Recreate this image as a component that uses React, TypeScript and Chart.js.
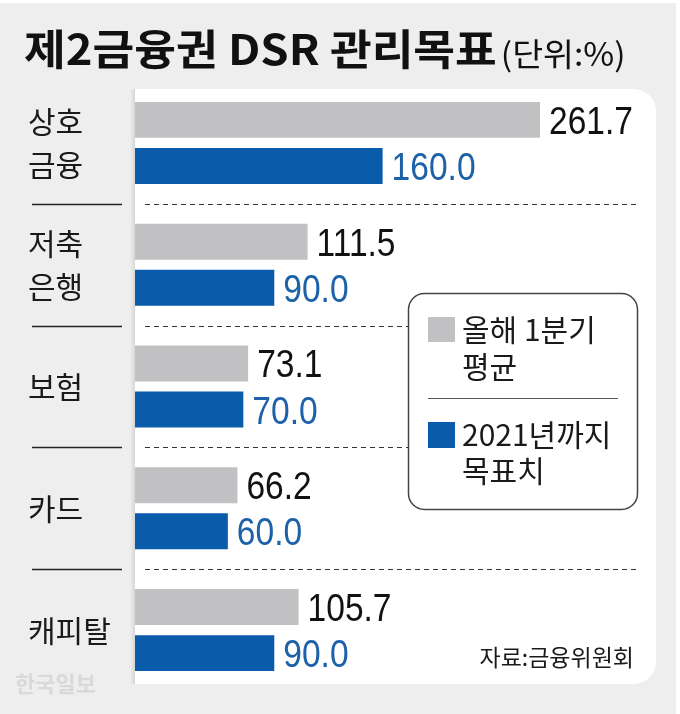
import React, { useEffect, useRef } from "react";
import { Chart, registerables } from "chart.js";

Chart.register(...registerables);

const W = 680;
const H = 714;

const categories: string[][] = [["상호", "금융"], ["저축", "은행"], ["보험"], ["카드"], ["캐피탈"]];
const avgQ1: number[] = [261.7, 111.5, 73.1, 66.2, 105.7];
const target2021: number[] = [160.0, 90.0, 70.0, 60.0, 90.0];
const seriesNames: string[][] = [["올해 1분기", "평균"], ["2021년까지", "목표치"]];
const titleText = "제2금융권 DSR 관리목표";
const unitText = "(단위:%)";
const sourceText = "자료:금융위원회";
const watermarkText = "한국일보";

const BG = "#eeeeee";
const GRAY = "#c1c1c3";
const BLUE = "#0a5cab";
const BLUE_TEXT = "#1d62a8";
const KR = "'Noto Sans CJK KR', 'Noto Sans', sans-serif";
const NUM = "'Liberation Sans', Arial, sans-serif";

function condensedText(ctx: CanvasRenderingContext2D, text: string, x: number, y: number, sx: number) {
  ctx.save();
  ctx.translate(x, y);
  ctx.scale(sx, 1);
  ctx.fillText(text, 0, 0);
  ctx.restore();
}

const decor = {
  id: "decor",
  beforeDraw(chart: any) {
    const { ctx, chartArea, scales } = chart;
    ctx.save();
    ctx.fillStyle = "#ffffff";
    ctx.fillRect(0, 0, W, H);
    ctx.fillStyle = BG;
    ctx.fillRect(0, 3, 676, H - 3);

    const px = chartArea.left;
    const py = chartArea.top + 7;
    const pr = chartArea.right + 1;
    const pb = chartArea.bottom - 7;

    const g = ctx.createLinearGradient(px - 5, 0, px, 0);
    g.addColorStop(0, "rgba(0,0,0,0)");
    g.addColorStop(1, "rgba(0,0,0,0.10)");
    ctx.fillStyle = g;
    ctx.fillRect(px - 5, py, 5, pb - py);

    ctx.beginPath();
    ctx.roundRect(px, py, pr - px, pb - py, [0, 22, 22, 0]);
    ctx.fillStyle = "#ffffff";
    ctx.fill();

    const ys = scales.y;
    for (let i = 0; i < categories.length - 1; i++) {
      const m = Math.round((ys.getPixelForValue(i) + ys.getPixelForValue(i + 1)) / 2) + 0.5;
      ctx.strokeStyle = "#222222";
      ctx.lineWidth = 1.3;
      ctx.setLineDash([]);
      ctx.beginPath();
      ctx.moveTo(32, m);
      ctx.lineTo(122, m);
      ctx.stroke();
      ctx.lineWidth = 1;
      ctx.strokeStyle = "#333333";
      ctx.setLineDash([5, 4]);
      ctx.beginPath();
      ctx.moveTo(145, m);
      ctx.lineTo(640, m);
      ctx.stroke();
    }
    ctx.setLineDash([]);
    ctx.restore();
  },
  afterDraw(chart: any) {
    const { ctx, scales } = chart;
    ctx.save();

    // title
    ctx.fillStyle = "#111111";
    ctx.textBaseline = "alphabetic";
    ctx.textAlign = "left";
    ctx.font = `bold 42px ${KR}`;
    const tsx = 1.08;
    const tw = ctx.measureText(titleText).width * tsx;
    condensedText(ctx, titleText, 24, 65, tsx);
    ctx.font = `32px ${KR}`;
    condensedText(ctx, unitText, 24 + tw + 4, 66, 1.05);

    // category labels
    ctx.font = `30px ${KR}`;
    ctx.fillStyle = "#1a1a1a";
    ctx.textBaseline = "middle";
    const ys = scales.y;
    categories.forEach((lines, i) => {
      const c = ys.getPixelForValue(i);
      const lh = 43;
      const start = c - ((lines.length - 1) * lh) / 2;
      lines.forEach((t, j) => {
        ctx.fillText(t, 28, start + j * lh);
      });
    });

    // value labels
    ctx.font = `39px ${NUM}`;
    ctx.textBaseline = "alphabetic";
    [avgQ1, target2021].forEach((arr, d) => {
      const meta = chart.getDatasetMeta(d);
      ctx.fillStyle = d === 0 ? "#111111" : BLUE_TEXT;
      meta.data.forEach((el: any, i: number) => {
        condensedText(ctx, arr[i].toFixed(1), el.x + 9, el.y + 14, 0.86);
      });
    });

    // legend box
    ctx.beginPath();
    ctx.roundRect(408.5, 293.5, 229, 216, 16);
    ctx.fillStyle = "#ffffff";
    ctx.fill();
    ctx.strokeStyle = "#444444";
    ctx.lineWidth = 1.5;
    ctx.stroke();

    ctx.fillStyle = GRAY;
    ctx.fillRect(428, 317, 27, 25);
    ctx.fillStyle = BLUE;
    ctx.fillRect(428, 422, 27, 26);

    ctx.strokeStyle = "#555555";
    ctx.lineWidth = 1;
    ctx.beginPath();
    ctx.moveTo(428, 398.5);
    ctx.lineTo(618, 398.5);
    ctx.stroke();

    ctx.fillStyle = "#1a1a1a";
    ctx.font = `30px ${KR}`;
    ctx.textBaseline = "middle";
    ctx.fillText(seriesNames[0][0], 462, 330);
    ctx.fillText(seriesNames[0][1], 462, 367);
    ctx.fillText(seriesNames[1][0], 462, 435);
    ctx.fillText(seriesNames[1][1], 462, 471);

    // source
    ctx.font = `23px ${KR}`;
    ctx.textAlign = "right";
    ctx.fillStyle = "#1a1a1a";
    ctx.fillText(sourceText, 634, 657);

    // watermark
    ctx.textAlign = "left";
    ctx.font = `bold 22px ${KR}`;
    ctx.fillStyle = "#d9d9d9";
    ctx.fillText(watermarkText, 15, 684);

    ctx.restore();
  },
};

export default function App() {
  const ref = useRef<HTMLCanvasElement | null>(null);
  useEffect(() => {
    if (!ref.current) return;
    const chart = new Chart(ref.current, {
      type: "bar",
      data: {
        labels: categories.map((c) => c.join(" ")),
        datasets: [
          {
            label: seriesNames[0].join(" "),
            data: avgQ1,
            backgroundColor: GRAY,
            borderWidth: 0,
            categoryPercentage: 0.756,
            barPercentage: 0.78,
          },
          {
            label: seriesNames[1].join(" "),
            data: target2021,
            backgroundColor: BLUE,
            borderWidth: 0,
            categoryPercentage: 0.756,
            barPercentage: 0.78,
          },
        ],
      },
      options: {
        indexAxis: "y",
        animation: false,
        responsive: false,
        maintainAspectRatio: false,
        layout: { padding: { left: 135, right: 25, top: 82, bottom: 23 } },
        scales: {
          x: { display: false, min: 0, max: 336 },
          y: { display: false },
        },
        plugins: {
          legend: { display: false },
          tooltip: { enabled: false },
        },
      },
      plugins: [decor],
    });
    return () => chart.destroy();
  }, []);
  return (
    <div style={{ position: "fixed", left: 0, top: 0, width: W, height: H }}>
      <canvas ref={ref} width={W} height={H} style={{ display: "block", width: W, height: H }} />
    </div>
  );
}
